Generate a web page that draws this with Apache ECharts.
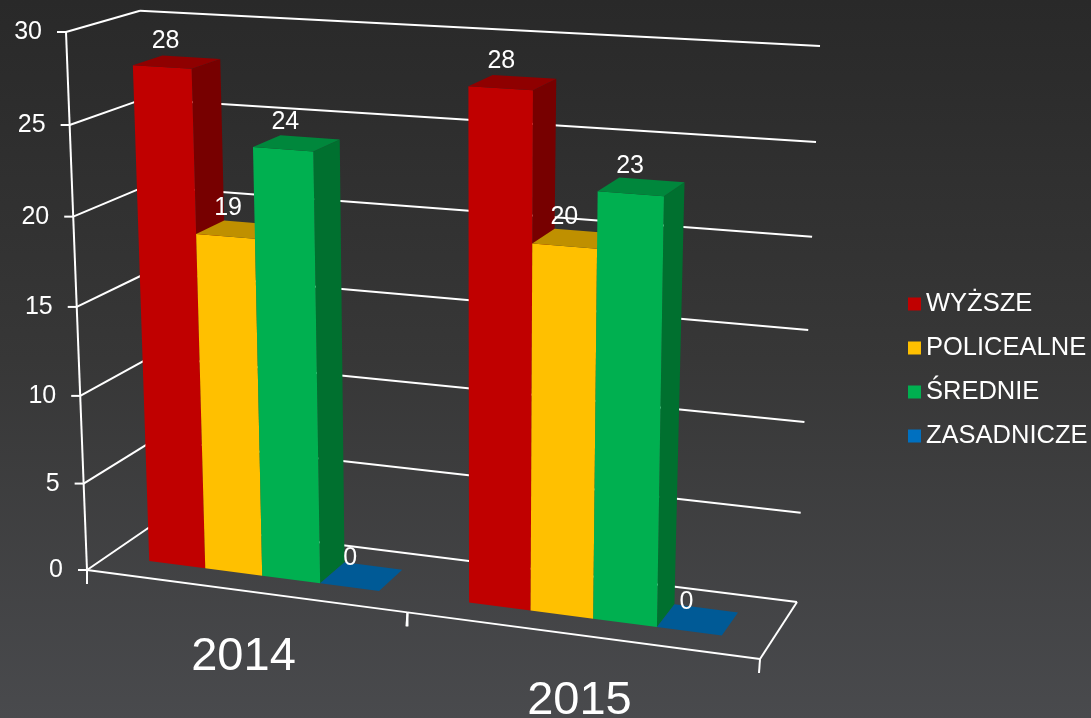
<!DOCTYPE html>
<html>
<head>
<meta charset="utf-8">
<title>Wykształcenie</title>
<style>
  html, body { margin: 0; padding: 0; background: #333; }
  #chart-container { width: 1091px; height: 718px; }
</style>
<script src="https://cdn.jsdelivr.net/npm/echarts@6/dist/echarts.min.js"></script>
</head>
<body>
<div id="chart-container"></div>
<script>
// data
var years = ['2014', '2015'];
var seriesNames = ['WYŻSZE', 'POLICEALNE', 'ŚREDNIE', 'ZASADNICZE'];
var wyzsze = [28, 28];
var policealne = [19, 20];
var srednie = [24, 23];
var zasadnicze = [0, 0];
var yTicks = [0, 5, 10, 15, 20, 25, 30];

// colours: front, side, top
var frontColors = ['#C00000', '#FFC000', '#00B050', '#0070C0'];
var sideColors = ['#770000', '#997300', '#00702F', '#00477A'];
var topColors = ['#8F0000', '#BF9000', '#00873C', '#005A96'];

// corners of the 3D box in screen pixels
var FL0 = [87, 570], FR0 = [760, 659], BL0 = [157, 522], BR0 = [797, 602];
var FL1 = [66, 32], FR1 = [772, 75], BL1 = [140, 10.7], BR1 = [820, 46];
// foreshortening along the category and value directions
var K_X = 1.1, K_Y = 1.045;
// bars stand between these depths; gap and bar width are shares of a category band
var D_FRONT = 0.3, D_BACK = 0.71, BAND_GAP = 0.136, BAR_W = 0.182;

// hidden grid: the library scales values into this rectangle, then it is bent into the box
var G = { left: 100, top: 100, width: 600, height: 400 };
var FONT = '"Liberation Sans", Arial, sans-serif';

function lerp(a, b, k) {
    return [a[0] + (b[0] - a[0]) * k, a[1] + (b[1] - a[1]) * k];
}

function project(t, d, w) {
    var u = t / (t + K_X * (1 - t));
    var h = w / (w + K_Y * (1 - w));
    var bottom = lerp(lerp(FL0, FR0, u), lerp(BL0, BR0, u), d);
    var top = lerp(lerp(FL1, FR1, u), lerp(BL1, BR1, u), d);
    return lerp(bottom, top, h);
}

function normX(px) { return (px - G.left) / G.width; }
function normY(py) { return (G.top + G.height - py) / G.height; }

function whiteLine(a, b, w) {
    return {
        type: 'line',
        shape: { x1: a[0], y1: a[1], x2: b[0], y2: b[1] },
        style: { stroke: '#fff', lineWidth: w || 2 }
    };
}

function label(text, x, y, size, align) {
    return {
        type: 'text',
        x: x,
        y: y,
        z2: 50,
        style: {
            text: text,
            fill: '#fff',
            font: size + 'px ' + FONT,
            align: align || 'center',
            verticalAlign: 'middle'
        }
    };
}

function poly(points, color) {
    return { type: 'polygon', shape: { points: points }, style: { fill: color } };
}

// back wall, left wall and y axis, one item per tick
function renderWall(params, api) {
    var value = api.value(1);
    var w = normY(api.coord([0, value])[1]);
    var front = project(0, 0, w);
    var back = project(0, 1, w);
    var right = project(1, 1, w);
    var children = [
        whiteLine(front, back),
        whiteLine(back, right),
        whiteLine([front[0] - 9, front[1]], front),
        label(String(value), front[0] - 24, front[1] + 0.5, 25, 'right')
    ];
    if (params.dataIndex < yTicks.length - 1) {
        var upper = yTicks[params.dataIndex + 1];
        children.push(whiteLine(front, project(0, 0, normY(api.coord([0, upper])[1]))));
    }
    return { type: 'group', children: children };
}

// floor edges, category ticks and the year labels
function renderFloor(params, api) {
    var idx = api.value(0);
    var band = api.size([1, 0])[0] / G.width;
    var center = normX(api.coord([idx, 0])[0]);
    var start = project(center - band / 2, 0, 0);
    var end = project(center + band / 2, 0, 0);
    var mid = project(center, 0, 0);
    var children = [
        whiteLine(start, end),
        whiteLine(start, [start[0], start[1] + 14]),
        whiteLine(end, [end[0] - 1, end[1] + 14]),
        label(years[idx], mid[0], mid[1] + 66, 47)
    ];
    if (idx === years.length - 1) {
        children.push(whiteLine(end, project(1, 1, 0)));
    }
    return { type: 'group', children: children };
}

function barRenderer(seriesIdx) {
    return function (params, api) {
        var cat = api.value(0);
        var val = api.value(1);
        var band = api.size([1, 0])[0] / G.width;
        var c = api.coord([cat, val]);
        var left = normX(c[0]) - band / 2 + band * (BAND_GAP + BAR_W * seriesIdx);
        var right = left + band * BAR_W;
        var w = normY(c[1]);

        var fl0 = project(left, D_FRONT, 0), fr0 = project(right, D_FRONT, 0);
        var br0 = project(right, D_BACK, 0);
        var fl1 = project(left, D_FRONT, w), fr1 = project(right, D_FRONT, w);
        var bl1 = project(left, D_BACK, w), br1 = project(right, D_BACK, w);

        var cx = (fl1[0] + br1[0]) / 2, cy = (fl1[1] + br1[1]) / 2;
        return {
            type: 'group',
            children: [
                poly([fr0, br0, br1, fr1], sideColors[seriesIdx]),
                poly([fl0, fr0, fr1, fl1], frontColors[seriesIdx]),
                poly([fl1, fr1, br1, bl1], topColors[seriesIdx]),
                label(String(val), cx - 11, cy - (val > 0 ? 21 : 18), 25)
            ]
        };
    };
}

function barSeries(i, values) {
    return {
        name: seriesNames[i],
        type: 'custom',
        coordinateSystem: 'cartesian2d',
        z: 3 + i,
        itemStyle: { color: frontColors[i] },
        encode: { x: 0, y: 1 },
        data: values.map(function (v, k) { return [k, v]; }),
        renderItem: barRenderer(i)
    };
}

var container = document.getElementById('chart-container');
var myChart = echarts.init(container);

myChart.setOption({
    animation: false,
    backgroundColor: new echarts.graphic.LinearGradient(0, 0, 0, 1, [
        { offset: 0, color: '#292929' },
        { offset: 0.5, color: '#373737' },
        { offset: 1, color: '#494A4D' }
    ]),
    grid: G,
    xAxis: { type: 'category', data: years, show: false },
    yAxis: { type: 'value', min: 0, max: 30, interval: 5, show: false },
    legend: {
        orient: 'vertical',
        left: 908,
        top: 291,
        padding: 0,
        icon: 'rect',
        itemWidth: 13,
        itemHeight: 13,
        itemGap: 18,
        data: seriesNames,
        textStyle: { color: '#fff', fontSize: 25.5, fontFamily: FONT }
    },
    series: [
        {
            name: 'wall',
            type: 'custom',
            coordinateSystem: 'cartesian2d',
            z: 1,
            encode: { x: 0, y: 1 },
            data: yTicks.map(function (v) { return [0, v]; }),
            renderItem: renderWall
        },
        {
            name: 'floor',
            type: 'custom',
            coordinateSystem: 'cartesian2d',
            z: 2,
            encode: { x: 0, y: 1 },
            data: years.map(function (y, k) { return [k, 0]; }),
            renderItem: renderFloor
        },
        barSeries(0, wyzsze),
        barSeries(1, policealne),
        barSeries(2, srednie),
        barSeries(3, zasadnicze)
    ]
});
</script>
</body>
</html>
